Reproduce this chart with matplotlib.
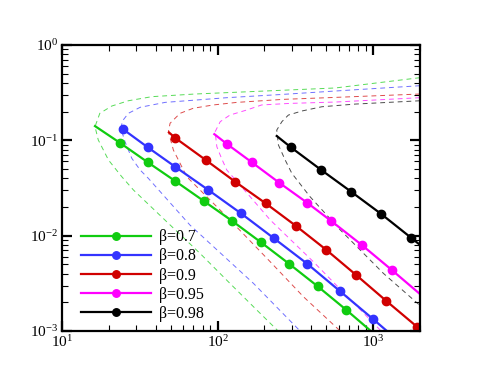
import numpy as np
import matplotlib
matplotlib.use("Agg")
import matplotlib.pyplot as plt
from matplotlib.ticker import LogLocator, NullFormatter

plt.rcParams['font.family'] = ['Liberation Serif', 'DejaVu Serif']
plt.rcParams['mathtext.fontset'] = 'stix'

labels = ["β=0.7", "β=0.8", "β=0.9", "β=0.95", "β=0.98"]
colors = ["#10cc10", "#3333ff", "#d00000", "#ff00ff", "#000000"]

# solid lines: first/last points are the line ends, marker points in between
green_x = [16.3, 23.6, 35.6, 53.4, 81.5, 124.5, 189, 288, 440, 670, 966]
green_y = [0.141, 0.094, 0.0588, 0.0374, 0.0231, 0.0142, 0.00857, 0.00507, 0.00294, 0.00167, 0.001]
blue_x = [24.8, 24.8, 35.6, 53.4, 87.3, 141.6, 230.6, 377, 611, 995, 1225]
blue_y = [0.130, 0.130, 0.0844, 0.0528, 0.0301, 0.0171, 0.00936, 0.00507, 0.00262, 0.00134, 0.001]
red_x = [48.7, 53.4, 84, 129.7, 204, 320, 499, 778, 1213, 1910, 2000]
red_y = [0.121, 0.106, 0.0621, 0.0368, 0.0218, 0.0126, 0.00711, 0.00386, 0.00207, 0.00111, 0.00105]
mag_x = [95.3, 115.6, 166, 249, 377, 539, 846, 1318, 2000]
mag_y = [0.116, 0.0908, 0.0588, 0.0359, 0.0221, 0.0142, 0.00797, 0.00436, 0.00244]
blk_x = [240, 296, 461, 722, 1125, 1753, 2000]
blk_y = [0.111, 0.0844, 0.0492, 0.0289, 0.0169, 0.0095, 0.0080]

# dashed C-shaped curves (upper branch from right, nose, lower branch)
gd_x = [2000, 570, 162, 71.6, 37.8, 26.7, 20.9, 17.5, 16.3, 17.1, 19.9, 24.2, 28.8, 47.1, 77.1, 120, 178.6, 245]
gd_y = [0.454, 0.354, 0.324, 0.306, 0.287, 0.26, 0.229, 0.192, 0.139, 0.101, 0.0621, 0.0416, 0.0301, 0.014, 0.00652, 0.00316, 0.00166, 0.001]
bd_x = [2000, 570, 252, 114.6, 46, 31.8, 26.7, 24.5, 23.9, 25.4, 28.1, 31.8, 35.9, 66.5, 170, 339]
bd_y = [0.374, 0.329, 0.302, 0.28, 0.25, 0.222, 0.192, 0.16, 0.134, 0.0968, 0.0647, 0.0488, 0.0399, 0.0129, 0.00316, 0.001]
rd_x = [2000, 570, 265, 133, 94, 69.8, 57.4, 49.5, 48.3, 52, 57.4, 63.4, 114.6, 218, 356, 614]
rd_y = [0.306, 0.282, 0.269, 0.25, 0.235, 0.217, 0.192, 0.151, 0.123, 0.079, 0.0574, 0.0415, 0.0158, 0.00532, 0.00229, 0.001]
md_x = [2000, 570, 292, 192, 154, 120, 104, 96.4, 98.9, 106, 114.6, 162, 218, 413, 1125]
md_y = [0.28, 0.252, 0.244, 0.235, 0.208, 0.184, 0.157, 0.123, 0.0857, 0.0647, 0.0488, 0.0256, 0.0146, 0.00532, 0.001]
kd_x = [2000, 766, 468, 348, 285, 259, 240, 246, 272, 300, 393, 614, 1164, 2000]
kd_y = [0.26, 0.24, 0.225, 0.203, 0.184, 0.157, 0.128, 0.0894, 0.0621, 0.0451, 0.0256, 0.0115, 0.00402, 0.00185]

solid = [(green_x, green_y), (blue_x, blue_y), (red_x, red_y), (mag_x, mag_y), (blk_x, blk_y)]
dashed = [(gd_x, gd_y), (bd_x, bd_y), (rd_x, rd_y), (md_x, md_y), (kd_x, kd_y)]

fig = plt.figure(figsize=(4.78, 3.73), dpi=100)
ax = fig.add_axes([0.1297, 0.1126, 0.749, 0.7668])

for (x, y), c in zip(dashed, colors):
    ax.plot(x, y, ls=(0, (5, 4)), lw=0.7, color=c, alpha=0.7)
for (x, y), c, lab in zip(solid, colors, labels):
    ax.plot(x, y, '-o', color=c, lw=1.6, ms=6, markevery=slice(1, -1), label=lab)

ax.set_xscale('log')
ax.set_yscale('log')
ax.set_xlim(10, 2000)
ax.set_ylim(1e-3, 1)
ax.xaxis.set_minor_locator(LogLocator(subs=np.arange(2, 10)))
ax.yaxis.set_minor_locator(LogLocator(subs=np.arange(2, 10)))
ax.xaxis.set_minor_formatter(NullFormatter())
ax.yaxis.set_minor_formatter(NullFormatter())
ax.tick_params(which='both', direction='in', top=True, right=True, labelsize=11)
ax.tick_params(which='major', length=7, width=1.6, pad=3)
ax.tick_params(axis='x', which='major', pad=2)
ax.tick_params(which='minor', length=4, width=0.8)
for s in ax.spines.values():
    s.set_linewidth(1.6)

ax.legend(loc='upper left', bbox_to_anchor=(0.035, 0.378), frameon=False,
          fontsize=11.5, handlelength=4.4, handletextpad=0.5, labelspacing=0.2,
          numpoints=1, borderaxespad=0, markerscale=0.9)

fig.savefig("out.png", dpi=100)
